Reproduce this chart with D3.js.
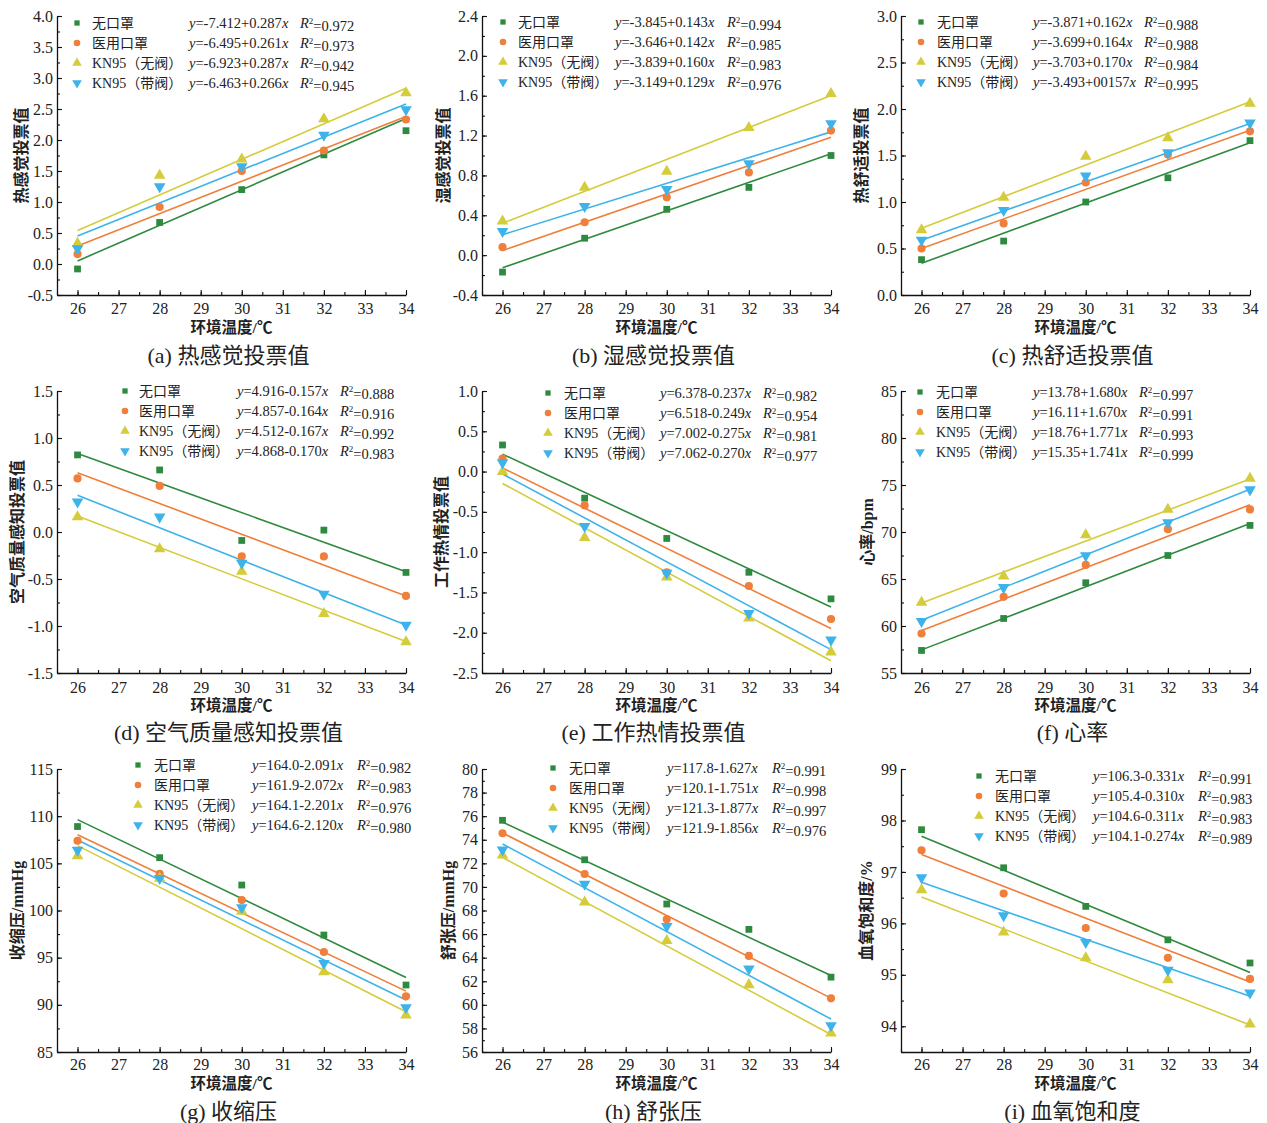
<!DOCTYPE html>
<meta charset="utf-8">
<html>
<script src="https://d3js.org/d3.v7.min.js"></script>
<body style="margin:0;background:#fff">
<div id="my_dataviz"></div>
<script>
// shared categories
const temps = [26, 28, 30, 32, 34];
const maskNames = ["无口罩", "医用口罩", "KN95（无阀）", "KN95（带阀）"];
const maskColors = ["#2e8a3e", "#ef7f3b", "#d4cc3b", "#3db3ea"];

// (a) 热感觉投票值
const ptsA = [[-0.08, 0.67, 1.20, 1.76, 2.15], [0.16, 0.92, 1.50, 1.83, 2.33], [0.33, 1.43, 1.69, 2.34, 2.76], [0.25, 1.25, 1.57, 2.08, 2.49]];
const fitA = [[-7.412, 0.287], [-6.495, 0.261], [-6.923, 0.287], [-6.463, 0.266]];
const eqA = ["-7.412+0.287", "-6.495+0.261", "-6.923+0.287", "-6.463+0.266"];
const r2A = ["0.972", "0.973", "0.942", "0.945"];

// (b) 湿感觉投票值
const ptsB = [[-0.17, 0.17, 0.46, 0.68, 1.00], [0.08, 0.33, 0.58, 0.83, 1.25], [0.34, 0.68, 0.84, 1.28, 1.62], [0.24, 0.49, 0.66, 0.92, 1.32]];
const fitB = [[-3.845, 0.143], [-3.646, 0.142], [-3.839, 0.160], [-3.149, 0.129]];
const eqB = ["-3.845+0.143", "-3.646+0.142", "-3.839+0.160", "-3.149+0.129"];
const r2B = ["0.994", "0.985", "0.983", "0.976"];

// (c) 热舒适投票值
const ptsC = [[0.38, 0.58, 1.00, 1.26, 1.66], [0.50, 0.77, 1.21, 1.51, 1.76], [0.70, 1.05, 1.49, 1.69, 2.06], [0.59, 0.91, 1.28, 1.53, 1.85]];
const fitC = [[-3.871, 0.162], [-3.634, 0.159], [-3.703, 0.170], [-3.493, 0.157]];
const eqC = ["-3.871+0.162", "-3.699+0.164", "-3.703+0.170", "-3.493+00157"];
const r2C = ["0.988", "0.988", "0.984", "0.995"];

// (d) 空气质量感知投票值
const ptsD = [[0.82, 0.66, -0.09, 0.02, -0.43], [0.57, 0.49, -0.26, -0.26, -0.68], [0.16, -0.18, -0.42, -0.87, -1.17], [0.32, 0.16, -0.33, -0.66, -0.99]];
const fitD = [[4.916, -0.157], [4.895, -0.164], [4.512, -0.167], [4.875, -0.1725]];
const eqD = ["4.916-0.157", "4.857-0.164", "4.512-0.167", "4.868-0.170"];
const r2D = ["0.888", "0.916", "0.992", "0.983"];

// (e) 工作热情投票值
const ptsE = [[0.33, -0.33, -0.83, -1.25, -1.58], [0.16, -0.42, -1.25, -1.42, -1.83], [0.00, -0.82, -1.31, -1.82, -2.24], [0.11, -0.68, -1.26, -1.76, -2.09]];
const fitE = [[6.378, -0.237], [6.518, -0.249], [7.002, -0.275], [7.055, -0.2725]];
const eqE = ["6.378-0.237", "6.518-0.249", "7.002-0.275", "7.062-0.270"];
const r2E = ["0.982", "0.954", "0.981", "0.977"];

// (f) 心率
const ptsF = [[57.4, 60.8, 64.6, 67.5, 70.7], [59.2, 63.1, 66.5, 70.3, 72.4], [62.5, 65.3, 69.7, 72.4, 75.7], [60.5, 64.1, 67.5, 71.0, 74.5]];
const fitF = [[13.78, 1.680], [16.11, 1.670], [19.56, 1.649], [15.35, 1.741]];
const eqF = ["13.78+1.680", "16.11+1.670", "18.76+1.771", "15.35+1.741"];
const r2F = ["0.997", "0.991", "0.993", "0.999"];

// (g) 收缩压
const ptsG = [[108.9, 105.6, 102.7, 97.4, 92.1], [107.4, 103.9, 101.1, 95.6, 90.9], [105.8, 103.4, 99.9, 93.5, 88.9], [106.4, 103.4, 100.3, 94.4, 89.7]];
const fitG = [[164.0, -2.091], [161.9, -2.072], [164.1, -2.201], [162.6, -2.120]];
const eqG = ["164.0-2.091", "161.9-2.072", "164.1-2.201", "164.6-2.120"];
const r2G = ["0.982", "0.983", "0.976", "0.980"];

// (h) 舒张压
const ptsH = [[75.65, 72.3, 68.55, 66.4, 62.35], [74.55, 71.1, 67.25, 64.15, 60.55], [72.7, 68.7, 65.45, 61.7, 57.6], [73.15, 70.25, 66.65, 63.05, 58.25]];
const fitH = [[117.8, -1.627], [120.1, -1.751], [121.3, -1.877], [121.9, -1.856]];
const eqH = ["117.8-1.627", "120.1-1.751", "121.3-1.877", "121.9-1.856"];
const r2H = ["0.991", "0.998", "0.997", "0.976"];

// (i) 血氧饱和度
const ptsI = [[97.82, 97.08, 96.33, 95.68, 95.23], [97.42, 96.58, 95.91, 95.33, 94.92], [96.65, 95.83, 95.33, 94.90, 94.04], [96.89, 96.15, 95.63, 95.09, 94.65]];
const fitI = [[106.3, -0.331], [105.4, -0.310], [104.6, -0.311], [104.0, -0.277]];
const eqI = ["106.3-0.331", "105.4-0.310", "104.6-0.311", "104.1-0.274"];
const r2I = ["0.991", "0.983", "0.983", "0.989"];

const panels = [
  {cap: "(a) 热感觉投票值", ylab: "热感觉投票值", pts: ptsA, fit: fitA, eq: eqA, r2: r2A, dom: [-0.5, 4.0], step: 0.5, dec: 1},
  {cap: "(b) 湿感觉投票值", ylab: "湿感觉投票值", pts: ptsB, fit: fitB, eq: eqB, r2: r2B, dom: [-0.4, 2.4], step: 0.4, dec: 1},
  {cap: "(c) 热舒适投票值", ylab: "热舒适投票值", pts: ptsC, fit: fitC, eq: eqC, r2: r2C, dom: [0, 3.0], step: 0.5, dec: 1},
  {cap: "(d) 空气质量感知投票值", ylab: "空气质量感知投票值", pts: ptsD, fit: fitD, eq: eqD, r2: r2D, dom: [-1.5, 1.5], step: 0.5, dec: 1},
  {cap: "(e) 工作热情投票值", ylab: "工作热情投票值", pts: ptsE, fit: fitE, eq: eqE, r2: r2E, dom: [-2.5, 1.0], step: 0.5, dec: 1},
  {cap: "(f) 心率", ylab: "心率/bpm", pts: ptsF, fit: fitF, eq: eqF, r2: r2F, dom: [55, 85], step: 5, dec: 0},
  {cap: "(g) 收缩压", ylab: "收缩压/mmHg", pts: ptsG, fit: fitG, eq: eqG, r2: r2G, dom: [85, 115], step: 5, dec: 0},
  {cap: "(h) 舒张压", ylab: "舒张压/mmHg", pts: ptsH, fit: fitH, eq: eqH, r2: r2H, dom: [56, 80], step: 2, dec: 0},
  {cap: "(i) 血氧饱和度", ylab: "血氧饱和度/%", pts: ptsI, fit: fitI, eq: eqI, r2: r2I, dom: [93.5, 99], step: 1, dec: 0}
];

// layout: plot boxes, legend placement, title offsets
const colL = [57, 482, 901], colR = [406, 831, 1250];
const rowT = [16, 391, 769], rowB = [295, 673, 1052];
const rowTick = [308, 687, 1064], rowXlab = [328, 706, 1084], rowCap = [355, 732, 1111];
// [markerX, textX, eqX, r2X, firstRowY] relative to page
const legPos = [
  [77, 92, 189, 300, 23], [503, 518, 615, 727, 22], [921, 937, 1033, 1144, 22],
  [125, 139, 237, 340, 391], [548, 564, 660, 763, 393], [920, 936, 1033, 1139, 392],
  [138, 154, 252, 357, 765], [553, 569, 667, 772, 768], [979, 995, 1093, 1198, 776]
];
const ylabOff = [36, 39, 40, 40, 41, 34, 40, 34, 35];

const W = 1267, H = 1123;
const serif = "'Liberation Serif', 'Times New Roman', 'Noto Sans CJK SC', serif";
const cjk = "'Liberation Serif', 'Noto Sans CJK SC', sans-serif";

const svg = d3.select("#my_dataviz").append("svg")
  .attr("width", W).attr("height", H)
  .style("font-family", serif);

const symTypes = [d3.symbolSquare, d3.symbolCircle, d3.symbolTriangle, d3.symbolTriangle];
const symSizes = [46, 52, 58, 58];
const legSizes = [28, 34, 40, 40];

panels.forEach(function(p, i) {
  const col = i % 3, row = Math.floor(i / 3);
  const x = d3.scaleLinear().domain([25.5, 34]).range([colL[col], colR[col]]);
  const y = d3.scaleLinear().domain(p.dom).range([rowB[row], rowT[row]]);
  const g = svg.append("g");

  // major/minor tick values
  const first = Math.ceil(p.dom[0] / p.step - 1e-9) * p.step;
  const yMajor = d3.range(first, p.dom[1] + 1e-9, p.step);
  const yMinor = d3.range(p.dom[0], p.dom[1] + 1e-9, p.step / 2);
  const xMajor = d3.range(26, 34.01, 1);
  const xMinor = d3.range(25.5, 34.01, 0.5);

  // minor ticks
  g.append("g").attr("transform", `translate(0,${rowB[row]})`)
    .call(d3.axisBottom(x).tickValues(xMinor).tickSize(-3).tickFormat(""))
    .call(a => a.select(".domain").remove());
  g.append("g").attr("transform", `translate(${colL[col]},0)`)
    .call(d3.axisLeft(y).tickValues(yMinor).tickSize(-3).tickFormat(""))
    .call(a => a.select(".domain").remove());

  // major axes
  const xa = g.append("g").attr("transform", `translate(0,${rowB[row]})`)
    .call(d3.axisBottom(x).tickValues(xMajor).tickSizeInner(-5).tickSizeOuter(0).tickPadding(8).tickFormat(d3.format("d")));
  xa.selectAll("text").attr("y", rowTick[row] - rowB[row]).attr("dy", "0.35em");
  const ya = g.append("g").attr("transform", `translate(${colL[col]},0)`)
    .call(d3.axisLeft(y).tickValues(yMajor).tickSizeInner(-5).tickSizeOuter(0).tickPadding(4)
      .tickFormat(v => v.toFixed(p.dec)));
  [xa, ya].forEach(a => {
    a.select(".domain").attr("stroke", "#111").attr("stroke-width", 1.3);
    a.selectAll("text").style("font-family", serif).style("font-size", "16px").attr("fill", "#222");
  });
  g.selectAll(".tick line").attr("stroke", "#111").attr("stroke-width", 1.1);

  // fit lines
  p.fit.forEach(function(f, s) {
    g.append("line")
      .attr("x1", x(26)).attr("y1", y(f[0] + f[1] * 26))
      .attr("x2", x(34)).attr("y2", y(f[0] + f[1] * 34))
      .attr("stroke", maskColors[s]).attr("stroke-width", 1.6);
  });

  // points
  p.pts.forEach(function(vals, s) {
    g.selectAll(null).data(vals).join("path")
      .attr("d", d3.symbol().type(symTypes[s]).size(symSizes[s]))
      .attr("transform", (d, k) => `translate(${x(temps[k])},${y(d)})` + (s === 3 ? " rotate(180)" : ""))
      .attr("fill", maskColors[s]);
  });

  // legend
  const lp = legPos[i];
  maskNames.forEach(function(name, s) {
    const ly = lp[4] + s * 20;
    g.append("path")
      .attr("d", d3.symbol().type(symTypes[s]).size(legSizes[s]))
      .attr("transform", `translate(${lp[0]},${ly})` + (s === 3 ? " rotate(180)" : ""))
      .attr("fill", maskColors[s]);
    g.append("text").attr("x", lp[1]).attr("y", ly).attr("dy", "0.35em")
      .style("font-family", cjk).style("font-size", "14px").attr("fill", "#222")
      .text(name);
    const eq = g.append("text").attr("x", lp[2]).attr("y", ly).attr("dy", "0.35em")
      .style("font-family", serif).style("font-size", "14.5px").attr("fill", "#222");
    eq.append("tspan").style("font-style", "italic").text("y");
    eq.append("tspan").text("=" + p.eq[s]);
    eq.append("tspan").style("font-style", "italic").text("x");
    const r = g.append("text").attr("x", lp[3]).attr("y", ly).attr("dy", "0.35em")
      .style("font-family", serif).style("font-size", "14.5px").attr("fill", "#222");
    r.append("tspan").style("font-style", "italic").text("R");
    r.append("tspan").attr("dy", "-0.45em").style("font-size", "9px").text("2");
    r.append("tspan").attr("dy", "0.45em").text("=" + p.r2[s]);
  });

  // axis titles
  const cx = (colL[col] + colR[col]) / 2;
  g.append("text").attr("x", cx).attr("y", rowXlab[row]).attr("dy", "0.35em")
    .attr("text-anchor", "middle")
    .style("font-family", cjk).style("font-size", "15.5px").style("font-weight", "bold").attr("fill", "#222")
    .text("环境温度/℃");
  const cy = (rowT[row] + rowB[row]) / 2;
  g.append("text")
    .attr("transform", `translate(${colL[col] - ylabOff[i]},${cy}) rotate(-90)`)
    .attr("dy", "0.35em").attr("text-anchor", "middle")
    .style("font-family", cjk).style("font-size", "16px").style("font-weight", "bold").attr("fill", "#222")
    .text(p.ylab);

  // caption
  g.append("text").attr("x", cx - 3).attr("y", rowCap[row]).attr("dy", "0.35em")
    .attr("text-anchor", "middle")
    .style("font-family", cjk).style("font-size", "22px").attr("fill", "#222")
    .text(p.cap);
});
</script>
</body>
</html>
